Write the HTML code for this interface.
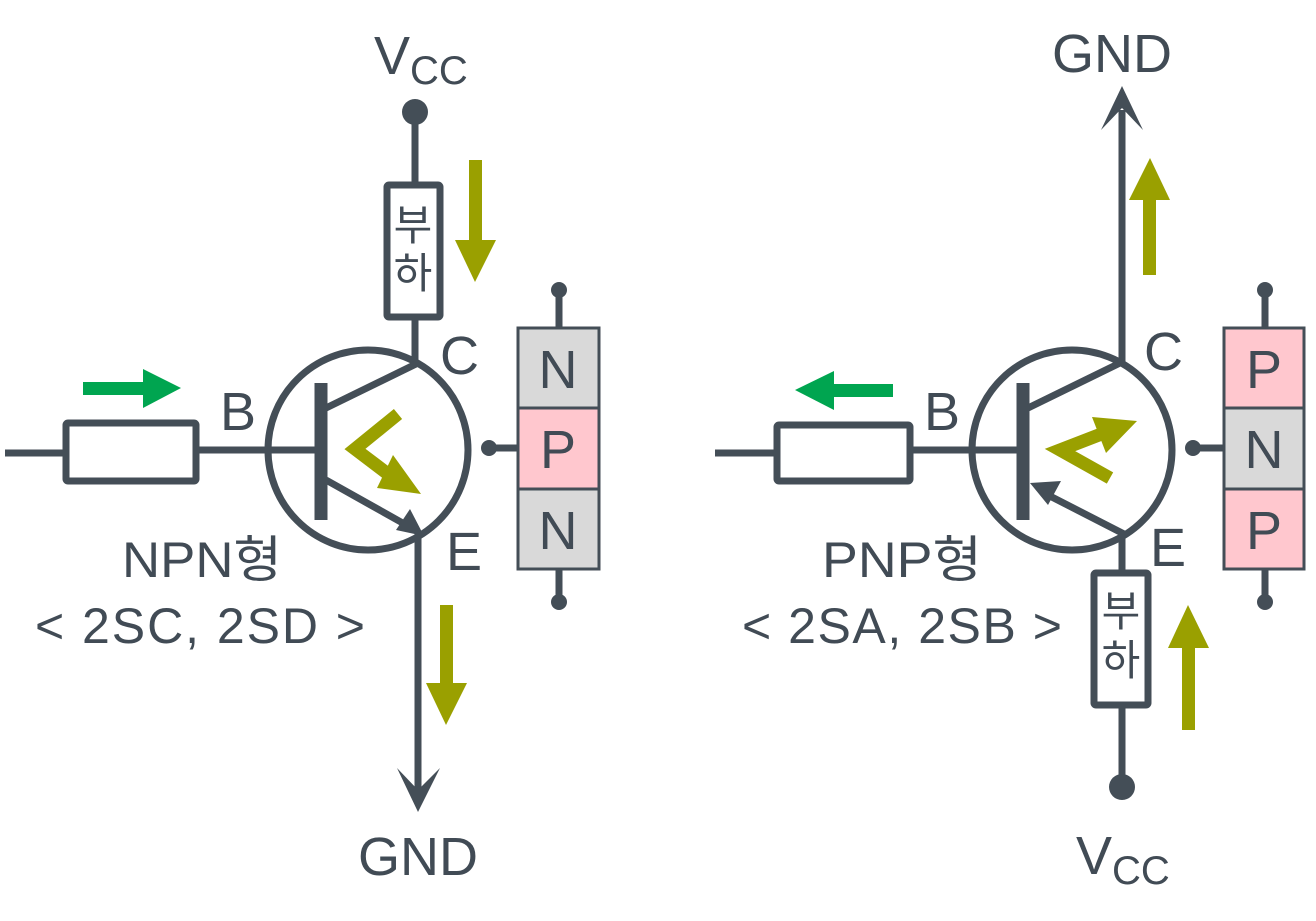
<!DOCTYPE html>
<html><head><meta charset="utf-8"><style>
html,body{margin:0;padding:0;background:#fff;}
svg{display:block;}
text{font-family:"Liberation Sans","Noto Sans CJK KR",sans-serif;fill:#414b55;}
</style></head><body>
<svg width="1316" height="921" viewBox="0 0 1316 921" xmlns="http://www.w3.org/2000/svg">
<g stroke="#444e57" stroke-width="7" fill="none">
<!-- NPN -->
<line x1="415" y1="112" x2="415" y2="185"/>
<line x1="415" y1="317" x2="415" y2="366"/>
<rect x="387" y="185" width="53" height="132" rx="2" fill="#fff"/>
<circle cx="368" cy="450" r="100"/>
<line x1="321" y1="383" x2="321" y2="520" stroke-width="13"/>
<line x1="196" y1="450" x2="321" y2="450"/>
<rect x="66" y="423" width="130" height="58" rx="2" fill="#fff"/>
<line x1="5" y1="453" x2="66" y2="453"/>
<line x1="326" y1="408" x2="416" y2="364"/>
<line x1="326" y1="480" x2="408" y2="526"/>
<line x1="418" y1="533" x2="418" y2="800"/>
<line x1="489" y1="448" x2="518" y2="448"/>
<line x1="559" y1="290" x2="559" y2="328"/>
<line x1="559" y1="569" x2="559" y2="602"/>
<!-- PNP -->
<line x1="1122" y1="110" x2="1122" y2="366"/>
<circle cx="1072" cy="450" r="100"/>
<line x1="1023" y1="383" x2="1023" y2="520" stroke-width="13"/>
<line x1="910" y1="450" x2="1023" y2="450"/>
<rect x="777" y="425" width="133" height="56" rx="2" fill="#fff"/>
<line x1="715" y1="453" x2="777" y2="453"/>
<line x1="1028" y1="408" x2="1120" y2="363"/>
<line x1="1044" y1="493" x2="1124" y2="534"/>
<line x1="1122" y1="534" x2="1122" y2="573"/>
<line x1="1122" y1="705" x2="1122" y2="787"/>
<rect x="1094" y="573" width="54" height="132" rx="2" fill="#fff"/>
<line x1="1193" y1="448" x2="1224" y2="448"/>
<line x1="1265" y1="290" x2="1265" y2="328"/>
<line x1="1265" y1="569" x2="1265" y2="602"/>
</g>
<g fill="#444e57">
<circle cx="415" cy="112" r="13"/>
<circle cx="489" cy="448" r="8"/>
<circle cx="559" cy="290" r="8"/>
<circle cx="559" cy="602" r="8"/>
<polygon points="424,536 396,530 410,509"/>
<polygon points="418,812 397,768 418,790 440,768"/>
<circle cx="1122" cy="787" r="13"/>
<circle cx="1193" cy="448" r="8"/>
<circle cx="1265" cy="290" r="8"/>
<circle cx="1265" cy="602" r="8"/>
<polygon points="1030,483 1061,481 1048,505"/>
<polygon points="1122,86 1101,130 1122,108 1143,130"/>
</g>
<!-- stacks -->
<g stroke="#444e57" stroke-width="3">
<rect x="518" y="328" width="81" height="80" fill="#d9d9d9"/>
<rect x="518" y="408" width="81" height="81" fill="#ffc7ce"/>
<rect x="518" y="489" width="81" height="80" fill="#d9d9d9"/>
<rect x="1224" y="328" width="80" height="80" fill="#ffc7ce"/>
<rect x="1224" y="408" width="80" height="81" fill="#d9d9d9"/>
<rect x="1224" y="489" width="80" height="80" fill="#ffc7ce"/>
</g>
<!-- olive arrows -->
<g fill="#9aa000">
<rect x="469" y="160" width="13" height="82"/>
<polygon points="455,240 496,240 475,282"/>
<rect x="440" y="605" width="13" height="80"/>
<polygon points="426,683 467,683 446,725"/>
<rect x="1143" y="198" width="13" height="77"/>
<polygon points="1129,200 1170,200 1150,158"/>
<rect x="1182" y="646" width="13" height="84"/>
<polygon points="1168,648 1209,648 1188,605"/>
<polygon points="377,488 421,494 393,455"/>
<polygon points="1092,417 1137,421 1106,453"/>
</g>
<g stroke="#9aa000" stroke-width="13" fill="none">
<polyline points="398,414 355,449 392,477"/>
<polyline points="1110,478 1060,450 1104,433"/>
</g>
<!-- green arrows -->
<g fill="#00a550">
<rect x="83" y="382" width="64" height="13"/>
<polygon points="143,369 143,408 181,388"/>
<rect x="830" y="384" width="63" height="13"/>
<polygon points="834,371 834,410 795,390"/>
</g>
<!-- text -->
<g font-size="54">
<text x="374" y="74">V<tspan font-size="40" dy="10">CC</tspan></text>
<text x="1076" y="874">V<tspan font-size="40" dy="10">CC</tspan></text>
<text x="418" y="875" text-anchor="middle">GND</text>
<text x="1112" y="72" text-anchor="middle">GND</text>
<text x="440" y="374">C</text>
<text x="220" y="430">B</text>
<text x="446" y="570">E</text>
<text x="1144" y="370">C</text>
<text x="924" y="430">B</text>
<text x="1150" y="566">E</text>
<text x="558" y="388" text-anchor="middle">N</text>
<text x="558" y="468" text-anchor="middle">P</text>
<text x="558" y="549" text-anchor="middle">N</text>
<text x="1264" y="388" text-anchor="middle">P</text>
<text x="1264" y="468" text-anchor="middle">N</text>
<text x="1264" y="549" text-anchor="middle">P</text>
</g>
<g font-size="50">
<text x="122" y="577" textLength="160" lengthAdjust="spacingAndGlyphs">NPN형</text>
<text x="35" y="643" textLength="330" lengthAdjust="spacing">&lt; 2SC, 2SD &gt;</text>
<text x="822" y="577" textLength="160" lengthAdjust="spacingAndGlyphs">PNP형</text>
<text x="742" y="643" textLength="320" lengthAdjust="spacing">&lt; 2SA, 2SB &gt;</text>
</g>
<g font-size="42">
<text x="413" y="240" text-anchor="middle">부</text>
<text x="413" y="288" text-anchor="middle">하</text>
<text x="1121" y="626" text-anchor="middle">부</text>
<text x="1121" y="675" text-anchor="middle">하</text>
</g>
</svg>
</body></html>
